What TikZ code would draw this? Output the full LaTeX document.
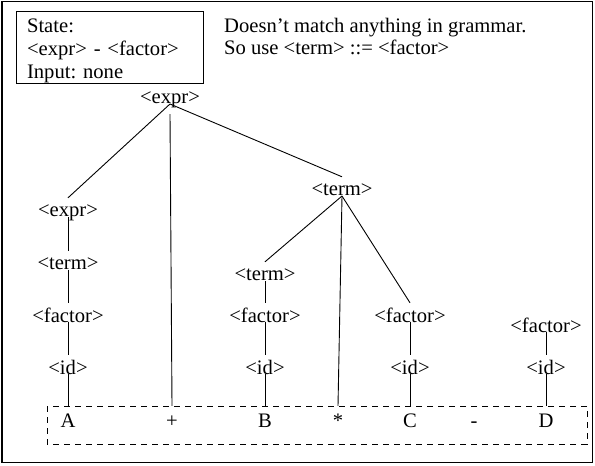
\documentclass[tikz,border=0pt]{standalone}
\usepackage{fontspec}
\setmainfont{Liberation Serif}
\usepackage{tikz}
\usetikzlibrary{positioning}
\frenchspacing

\begin{document}
\begin{tikzpicture}[
    x=1bp, y=-1bp,
    font=\fontsize{20.6bp}{23bp}\selectfont,
    sym/.style={anchor=base, text height=13bp, text depth=4bp, inner xsep=1bp, inner ysep=6bp},
    tok/.style={anchor=base, text height=14bp, text depth=0bp, inner sep=7bp},
    link/.style={line width=0.9bp},
    note/.style={anchor=base west, inner sep=0pt},
    state/.style={rectangle, draw, line width=1.1bp, anchor=north west, align=left, minimum width=187bp, minimum height=72bp, text width=166bp, inner xsep=10bp, inner ysep=0bp},
]
    \useasboundingbox (0,0) rectangle (595,466);
    \draw[line width=1.6bp] (2,1.5) rectangle (592.5,462.5);

    % State and remark
    \node[state] (state) at (16,11) {\rule{0pt}{20bp}State:\\ <expr> - <factor>\\ Input: none};
    \node[note] (remark1) at (224,33) {Doesn’t match anything in grammar.};
    \node[note] (remark2) at (224,55) {So use <term> ::= <factor>};

    % Tree
    \node[sym] (exprtop) at (170,104) {<expr>};
    \node[sym] (exprA) at (68,217) {<expr>};
    \node[sym] (termA) at (68,270) {<term>};
    \node[sym] (factorA) at (68,322) {<factor>};
    \node[sym] (idA) at (68,374) {<id>};
    \node[sym] (termmid) at (342,196) {<term>};
    \node[sym] (termB) at (265,281) {<term>};
    \node[sym] (factorB) at (265,322) {<factor>};
    \node[sym] (idB) at (265,374) {<id>};
    \node[sym] (factorC) at (410,322) {<factor>};
    \node[sym] (idC) at (410,374) {<id>};
    \node[sym] (factorD) at (546,332) {<factor>};
    \node[sym] (idD) at (546,374) {<id>};

    % Input
    \node[tok] (tA) at (68,427) {A};
    \node[tok] (tplus) at (172,427) {+};
    \node[tok] (tB) at (265,427) {B};
    \node[tok] (tstar) at (338,427) {*};
    \node[tok] (tC) at (410,427) {C};
    \node[tok] (tminus) at (474,427) {-};
    \node[tok] (tD) at (546,427) {D};
    \draw[line width=0.9bp, dash pattern=on 6bp off 5bp] (47,406) rectangle (587,444);

    % Lines
    \draw[link] (exprtop.base) -- (exprA.north);
    \draw[link] (exprtop.south) -- (tplus.north);
    \draw[link] (exprtop.base) -- (termmid.north);
    \draw[link] (exprA.base) -- (termA.north);
    \draw[link] (termA.base) -- (factorA.north);
    \draw[link] (factorA.base) -- (idA.north);
    \draw[link] (idA.base) -- (tA.north);
    \draw[link] (termmid.base) -- (termB.north);
    \draw[link] (termmid.base) -- (tstar.north);
    \draw[link] (termmid.base) -- (factorC.north);
    \draw[link] (termB.base) -- (factorB.north);
    \draw[link] (factorB.base) -- (idB.north);
    \draw[link] (idB.base) -- (tB.north);
    \draw[link] (factorC.base) -- (idC.north);
    \draw[link] (idC.base) -- (tC.north);
    \draw[link] (factorD.base) -- (idD.north);
    \draw[link] (idD.base) -- (tD.north);
\end{tikzpicture}
\end{document}
